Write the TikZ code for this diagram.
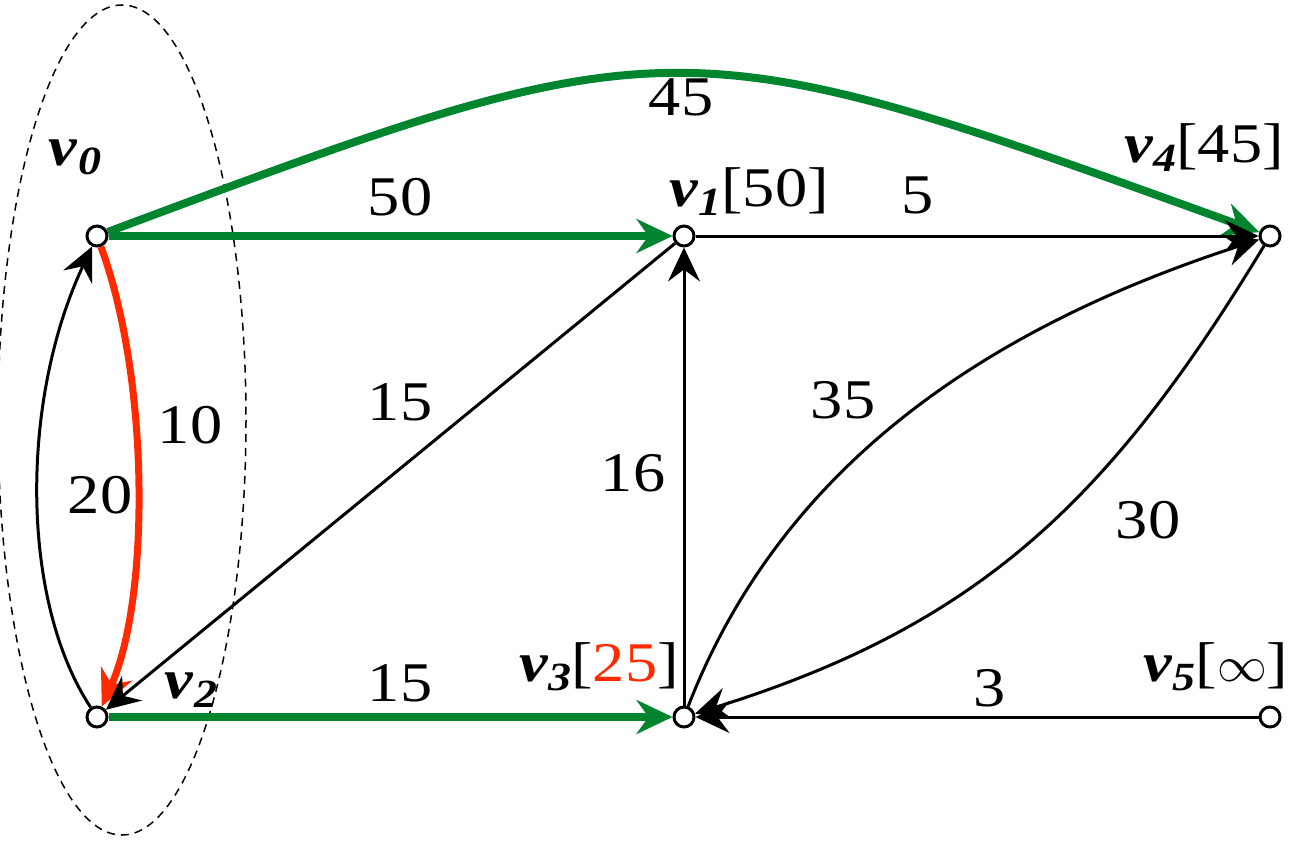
\documentclass[tikz,border=0pt]{standalone}
\usepackage{fontspec}
\setmainfont{Liberation Serif}
\newfontfamily\timesfont[FakeStretch=1.15]{Liberation Serif}
\usetikzlibrary{arrows.meta}
\definecolor{PathGreen}{HTML}{00852F}
\definecolor{PathRed}{HTML}{FF2A00}
\newcommand{\vname}[2]{\textbf{\textit{v}}\raisebox{-.35ex}{\fontsize{20}{22}\selectfont\textbf{\textit{#1}}}#2}

\begin{document}
\begin{tikzpicture}[x=.5pt,y=-.5pt,
  vertex/.style={circle,draw,line width=1.5pt,fill=white,minimum size=10pt,inner sep=0pt},
  weight/.style={font=\timesfont\fontsize{28}{30}\selectfont},
  blackedge/.style={line width=1.5pt,-{Stealth[length=17pt,width=16pt,inset=6pt]}},
  greenedge/.style={line width=4pt,PathGreen,-{Stealth[length=18pt,width=17pt,inset=6pt]}},
  rededge/.style={line width=3.5pt,PathRed,-{Stealth[length=18pt,width=17pt,inset=6pt]}}]
\useasboundingbox (0,0) rectangle (1299,850);
\draw[dash pattern=on 4pt off 3pt,line width=.75pt] (122,420) ellipse [x radius=124,y radius=415];
% vertices
\node[vertex] (v0) at (97,236) {};
\node[vertex] (v1) at (684,236) {};
\node[vertex] (v4) at (1270,236) {};
\node[vertex] (v2) at (97,717) {};
\node[vertex] (v3) at (684,717) {};
\node[vertex] (v5) at (1270,717) {};
% vertex names
\node[weight] (n0) at (75,157) {\vname{0}{}};
\node[weight] (n1) at (749,192) {\vname{1}{[50]}};
\node[weight] (n4) at (1204,148) {\vname{4}{[45]}};
\node[weight] (n2) at (191,690) {\vname{2}{}};
\node[weight] (n3) at (599,667) {\vname{3}{[\textcolor{PathRed}{25}]}};
\node[weight] (n5) at (1216,667) {\vname{5}{[$\infty$]}};
% edges
\draw[greenedge] (v0) .. controls (673,21) and (675,21) .. (v4);
\draw[greenedge] (v0) -- (v1);
\draw[greenedge] (v2) -- (v3);
\draw[rededge] (v0) .. controls (150,380) and (150,600) .. (v2);
\draw[blackedge] (v2) .. controls (20,600) and (20,400) .. (v0);
\draw[blackedge] (v1) -- (v2);
\draw[blackedge] (v1) -- (v4);
\draw[blackedge] (v3) -- (v1);
\draw[blackedge] (v3) .. controls (780,470) and (980,330) .. (v4);
\draw[blackedge] (v4) .. controls (1110,500) and (980,625) .. (v3);
\draw[blackedge] (v5) -- (v3);
% weights
\node[weight] (w04) at (681,97) {45};
\node[weight] (w01) at (400,197) {50};
\node[weight] (w14) at (918,195) {5};
\node[weight] (w12) at (400,402) {15};
\node[weight] (w31) at (633,473) {16};
\node[weight] (w02) at (190,425) {10};
\node[weight] (w20) at (100,495) {20};
\node[weight] (w34) at (843,400) {35};
\node[weight] (w43) at (1148,520) {30};
\node[weight] (w23) at (400,683) {15};
\node[weight] (w53) at (990,688) {3};
\end{tikzpicture}
\end{document}
